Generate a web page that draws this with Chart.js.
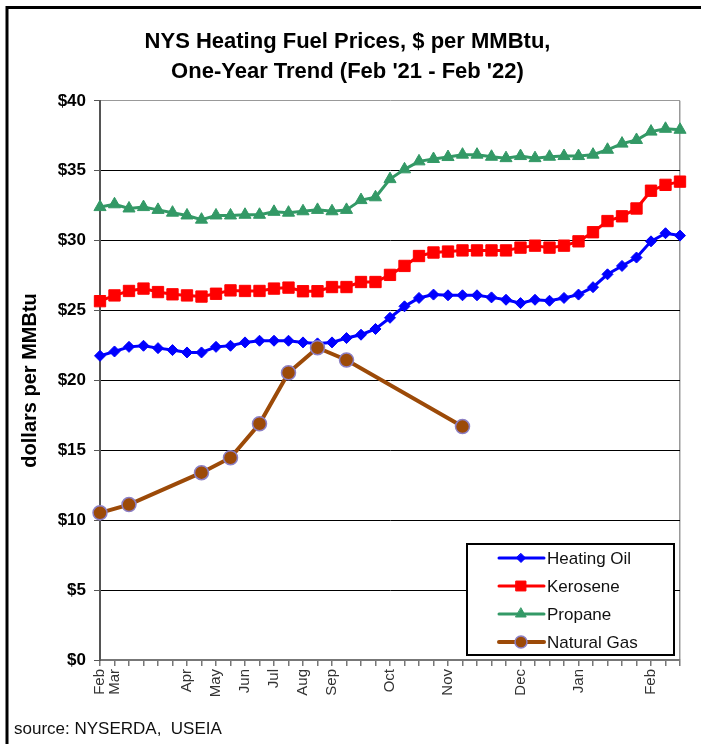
<!DOCTYPE html>
<html>
<head>
<meta charset="utf-8">
<script src="https://cdn.jsdelivr.net/npm/chart.js@4"></script>
<style>
  html, body { margin: 0; padding: 0; background: #fff; }
  #wrap { width: 701px; height: 744px; }
</style>
</head>
<body>
<div id="wrap"><canvas id="fuelChart" width="701" height="744"></canvas></div>
<script>
// weekly survey points, Feb '21 - Feb '22 (only month starts are labelled)
const weekLabels = [
    'Feb', 'Mar', '', '', '', '', 'Apr', '', 'May', '', 'Jun', '', 'Jul', '', 'Aug', '', 'Sep', '', '', '',
    'Oct', '', '', '', 'Nov', '', '', '', '', 'Dec', '', '', '', 'Jan', '', '', '', '', 'Feb', '', ''
];

const heatingOil = [
    21.76, 22.07, 22.40, 22.48, 22.31, 22.17, 22.00, 22.00, 22.40, 22.48, 22.72, 22.84, 22.84, 22.84,
    22.72, 22.65, 22.72, 23.03, 23.27, 23.68, 24.48, 25.30, 25.90, 26.14, 26.09, 26.09, 26.09, 25.94,
    25.77, 25.53, 25.77, 25.70, 25.90, 26.14, 26.67, 27.59, 28.19, 28.79, 29.95, 30.53, 30.36
];

const kerosene = [
    25.67, 26.08, 26.40, 26.57, 26.32, 26.16, 26.08, 26.00, 26.20, 26.44, 26.40, 26.40, 26.57, 26.64,
    26.38, 26.38, 26.68, 26.68, 27.04, 27.04, 27.55, 28.19, 28.90, 29.15, 29.22, 29.30, 29.30, 29.30,
    29.30, 29.50, 29.64, 29.50, 29.64, 29.95, 30.60, 31.40, 31.74, 32.30, 33.57, 33.99, 34.22
];

const propane = [
    32.40, 32.60, 32.30, 32.40, 32.20, 32.00, 31.80, 31.50, 31.80, 31.80, 31.85, 31.85, 32.06, 32.00,
    32.10, 32.20, 32.10, 32.20, 32.90, 33.10, 34.40, 35.10, 35.67, 35.84, 35.98, 36.15, 36.15, 36.00,
    35.90, 36.05, 35.90, 36.00, 36.05, 36.05, 36.15, 36.50, 36.94, 37.20, 37.80, 38.00, 37.93
];

// natural gas is only reported for some weeks
const naturalGas = [
    10.53, null, 11.12, null, null, null, null, 13.40, null, 14.47, null, 16.90, null, 20.55,
    null, 22.34, null, 21.46, null, null, null, null, null, null, null, 16.70, null, null,
    null, null, null, null, null, null, null, null, null, null, null, null, null
];

const yTicks = [0, 5, 10, 15, 20, 25, 30, 35, 40];

const FONT = "'Liberation Sans', Arial, sans-serif";

function drawMarker(ctx, style, x, y, r, fill, stroke, lw) {
    ctx.beginPath();
    if (style === 'rectRot') {
        ctx.moveTo(x, y - r); ctx.lineTo(x + r, y); ctx.lineTo(x, y + r); ctx.lineTo(x - r, y);
        ctx.closePath();
    } else if (style === 'rect') {
        const s = r * Math.SQRT1_2;
        ctx.rect(x - s, y - s, 2 * s, 2 * s);
    } else if (style === 'triangle') {
        ctx.moveTo(x, y - r);
        ctx.lineTo(x + r * Math.sin(Math.PI / 3), y + r / 2);
        ctx.lineTo(x - r * Math.sin(Math.PI / 3), y + r / 2);
        ctx.closePath();
    } else {
        ctx.arc(x, y, r, 0, Math.PI * 2);
    }
    ctx.fillStyle = fill;
    ctx.fill();
    ctx.lineWidth = lw;
    ctx.strokeStyle = stroke;
    ctx.stroke();
}

// white page + black frame
const framePlugin = {
    id: 'frame',
    beforeDraw(chart) {
        const ctx = chart.ctx;
        ctx.save();
        ctx.fillStyle = '#fff';
        ctx.fillRect(0, 0, chart.width, chart.height);
        ctx.strokeStyle = '#000';
        ctx.lineWidth = 3;
        ctx.strokeRect(7, 7.5, chart.width + 10, chart.height + 10);
        ctx.restore();
    }
};

// legend box inside the plot, bottom right
const legendBox = {
    id: 'legendBox',
    afterDraw(chart) {
        const ctx = chart.ctx;
        const area = chart.chartArea;
        const w = 207, h = 111;
        const left = area.right - 6 - w;
        const top = area.bottom - 5 - h;
        ctx.save();
        ctx.fillStyle = '#fff';
        ctx.fillRect(left, top, w, h);
        ctx.strokeStyle = '#000';
        ctx.lineWidth = 2;
        ctx.strokeRect(left, top, w, h);

        ctx.font = '17px ' + FONT;
        ctx.textBaseline = 'middle';
        chart.data.datasets.forEach((ds, i) => {
            const y = top + 14 + i * 28;
            ctx.strokeStyle = ds.borderColor;
            ctx.lineWidth = ds.borderWidth;
            ctx.lineCap = 'round';
            ctx.beginPath();
            ctx.moveTo(left + 32, y);
            ctx.lineTo(left + 77, y);
            ctx.stroke();
            drawMarker(ctx, ds.pointStyle, left + 54, y, ds.pointRadius - 1,
                ds.pointBackgroundColor, ds.pointBorderColor, ds.pointBorderWidth);
            ctx.fillStyle = '#111';
            ctx.fillText(ds.label, left + 80, y + 1);
        });
        ctx.restore();
    }
};

function buildChart() {
    const ctx = document.getElementById('fuelChart').getContext('2d');

    new Chart(ctx, {
        type: 'line',
        data: {
            labels: weekLabels,
            datasets: [
                {
                    label: 'Heating Oil',
                    data: heatingOil,
                    borderColor: '#0000FF',
                    borderWidth: 3,
                    pointStyle: 'rectRot',
                    pointRadius: 5.5,
                    pointBackgroundColor: '#0000FF',
                    pointBorderColor: '#0000FF',
                    pointBorderWidth: 1,
                    tension: 0,
                    order: 1
                },
                {
                    label: 'Kerosene',
                    data: kerosene,
                    borderColor: '#FF0000',
                    borderWidth: 3,
                    pointStyle: 'rect',
                    pointRadius: 8,
                    pointBackgroundColor: '#FF0000',
                    pointBorderColor: '#FF0000',
                    pointBorderWidth: 1,
                    tension: 0,
                    order: 1
                },
                {
                    label: 'Propane',
                    data: propane,
                    borderColor: '#339966',
                    borderWidth: 3,
                    pointStyle: 'triangle',
                    pointRadius: 7,
                    pointBackgroundColor: '#339966',
                    pointBorderColor: '#339966',
                    pointBorderWidth: 1,
                    tension: 0,
                    order: 1
                },
                {
                    label: 'Natural Gas',
                    data: naturalGas,
                    borderColor: '#9C4A08',
                    borderWidth: 4,
                    pointStyle: 'circle',
                    pointRadius: 7,
                    pointBackgroundColor: '#9C4A08',
                    pointBorderColor: '#8C7FC4',
                    pointBorderWidth: 1.5,
                    spanGaps: true,
                    tension: 0,
                    order: 0
                }
            ]
        },
        options: {
            responsive: false,
            animation: false,
            layout: { padding: { top: 12, left: 14, right: 20, bottom: 0 } },
            plugins: {
                legend: { display: false },
                tooltip: { enabled: false },
                title: {
                    display: true,
                    text: ['NYS Heating Fuel Prices, $ per MMBtu,', "One-Year Trend (Feb '21 - Feb '22)"],
                    color: '#000',
                    font: { family: FONT, size: 22, weight: 'bold', lineHeight: 1.36 },
                    padding: { top: 15, bottom: 14 }
                },
                subtitle: {
                    display: true,
                    position: 'bottom',
                    align: 'start',
                    text: 'source: NYSERDA,  USEIA',
                    color: '#111',
                    font: { family: FONT, size: 17, lineHeight: 1.2 },
                    padding: { top: 4, bottom: 4 }
                }
            },
            scales: {
                x: {
                    offset: false,
                    border: { color: '#777', width: 2 },
                    grid: {
                        drawOnChartArea: true,
                        color: c => (c.index === weekLabels.length - 1 ? '#999' : 'transparent'),
                        tickColor: '#777',
                        tickLength: 6,
                        lineWidth: 1.5
                    },
                    ticks: {
                        autoSkip: false,
                        maxRotation: 90,
                        minRotation: 90,
                        padding: 3,
                        color: '#333',
                        font: { family: FONT, size: 15 }
                    },
                    afterFit: scale => { scale.height = 55.6; }
                },
                y: {
                    min: 0,
                    max: 40,
                    border: { color: '#555', width: 2 },
                    grid: {
                        color: c => (c.tick.value === 0 ? 'transparent' : c.tick.value === 40 ? '#999' : '#000'),
                        tickColor: '#555',
                        tickLength: 6,
                        lineWidth: 1
                    },
                    afterBuildTicks: scale => { scale.ticks = yTicks.map(v => ({ value: v })); },
                    ticks: {
                        padding: 8,
                        color: '#000',
                        font: { family: FONT, size: 17, weight: 'bold' },
                        callback: v => '$' + v
                    },
                    title: {
                        display: true,
                        text: 'dollars per MMBtu',
                        color: '#000',
                        font: { family: FONT, size: 20, weight: 'bold' },
                        padding: { top: 4, bottom: 0 }
                    },
                    afterFit: scale => { scale.width = 86; }
                }
            }
        },
        plugins: [framePlugin, legendBox]
    });
}

window.onload = function() {
    buildChart();
};
</script>
</body>
</html>
